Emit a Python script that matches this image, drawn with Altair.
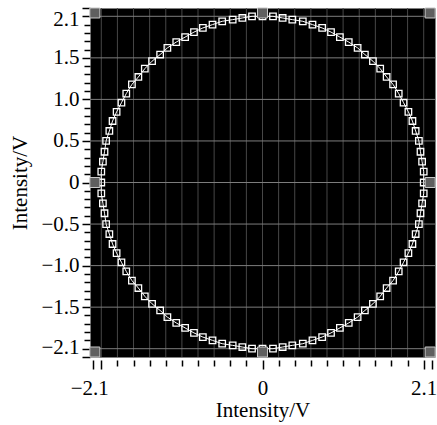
import altair as alt
import pandas as pd

X_VALS = [
    2.00, 2.00, 1.98, 1.96, 1.94, 1.90, 1.86, 1.81, 1.75, 1.69, 1.62, 1.54, 1.46, 1.37, 1.27, 1.18, 1.07, 0.96, 0.85, 0.74, 0.62, 0.50, 0.37, 0.25, 0.13, 0.00,
    -0.13, -0.25, -0.37, -0.50, -0.62, -0.74, -0.85, -0.96, -1.07, -1.18, -1.27, -1.37, -1.46, -1.54, -1.62, -1.69, -1.75, -1.81, -1.86, -1.90, -1.94, -1.96, -1.98, -2.00, -2.00,
    -2.00, -1.98, -1.96, -1.94, -1.90, -1.86, -1.81, -1.75, -1.69, -1.62, -1.54, -1.46, -1.37, -1.27, -1.18, -1.07, -0.96, -0.85, -0.74, -0.62, -0.50, -0.37, -0.25, -0.13, 0.00,
    0.13, 0.25, 0.37, 0.50, 0.62, 0.74, 0.85, 0.96, 1.07, 1.18, 1.27, 1.37, 1.46, 1.54, 1.62, 1.69, 1.75, 1.81, 1.86, 1.90, 1.94, 1.96, 1.98, 2.00,
]
Y_VALS = [
    0.00, 0.13, 0.25, 0.37, 0.50, 0.62, 0.74, 0.85, 0.96, 1.07, 1.18, 1.27, 1.37, 1.46, 1.54, 1.62, 1.69, 1.75, 1.81, 1.86, 1.90, 1.94, 1.96, 1.98, 2.00, 2.00,
    2.00, 1.98, 1.96, 1.94, 1.90, 1.86, 1.81, 1.75, 1.69, 1.62, 1.54, 1.46, 1.37, 1.27, 1.18, 1.07, 0.96, 0.85, 0.74, 0.62, 0.50, 0.37, 0.25, 0.13, 0.00,
    -0.13, -0.25, -0.37, -0.50, -0.62, -0.74, -0.85, -0.96, -1.07, -1.18, -1.27, -1.37, -1.46, -1.54, -1.62, -1.69, -1.75, -1.81, -1.86, -1.90, -1.94, -1.96, -1.98, -2.00, -2.00,
    -2.00, -1.98, -1.96, -1.94, -1.90, -1.86, -1.81, -1.75, -1.69, -1.62, -1.54, -1.46, -1.37, -1.27, -1.18, -1.07, -0.96, -0.85, -0.74, -0.62, -0.50, -0.37, -0.25, -0.13,
]

# Gray cursor markers
CURSOR_X = [-2.08, 0.0, 2.08, -2.08, 2.08, -2.08, 0.0, 2.08]
CURSOR_Y = [2.04, 2.04, 2.04, 0.0, 0.0, -2.04, -2.04, -2.04]

# Grid lines
VGRID = [-2.0, -1.8, -1.6, -1.4, -1.2, -1.0, -0.8, -0.6, -0.4, -0.2, 0.0,
         0.2, 0.4, 0.6, 0.8, 1.0, 1.2, 1.4, 1.6, 1.8, 2.0]
HGRID = [-2.0, -1.5, -1.0, -0.5, 0.0, 0.5, 1.0, 1.5, 2.0]

# Ticks
X_TICKS = [-2.1, -2.0, -1.8, -1.6, -1.4, -1.2, -1.0, -0.8, -0.6, -0.4, -0.2, 0.0,
           0.2, 0.4, 0.6, 0.8, 1.0, 1.2, 1.4, 1.6, 1.8, 2.0, 2.1]
Y_TICKS = [-2.1, -2.0, -1.9, -1.8, -1.7, -1.6, -1.5, -1.4, -1.3, -1.2, -1.1, -1.0,
           -0.9, -0.8, -0.7, -0.6, -0.5, -0.4, -0.3, -0.2, -0.1, 0.0,
           0.1, 0.2, 0.3, 0.4, 0.5, 0.6, 0.7, 0.8, 0.9, 1.0,
           1.1, 1.2, 1.3, 1.4, 1.5, 1.6, 1.7, 1.8, 1.9, 2.0, 2.1]

FONT = "Liberation Serif"
FS = 21

circle_df = pd.DataFrame({"x": X_VALS, "y": Y_VALS, "i": list(range(len(X_VALS)))})
line_df = pd.concat([circle_df, circle_df.iloc[[0]].assign(i=len(X_VALS))], ignore_index=True)
cursor_df = pd.DataFrame({"x": CURSOR_X, "y": CURSOR_Y})
vgrid_df = pd.DataFrame({"x": VGRID})
hgrid_df = pd.DataFrame({"y": HGRID})

xscale = alt.Scale(domain=[-2.14, 2.14], nice=False, zero=False)
yscale = alt.Scale(domain=[-2.1, 2.1], nice=False, zero=False)

x_axis = alt.Axis(
    values=X_TICKS,
    labelExpr="abs(datum.value) > 2.05 ? format(datum.value, '.1f') : (abs(datum.value) < 0.001 ? '0' : '')",
    title="Intensity/V",
    grid=False, domain=False,
    tickColor="black", tickWidth=1.5,
    tickSize={"condition": {"test": "abs(datum.value) < 0.001 || abs(datum.value) > 1.95", "value": 9}, "value": 6},
    offset=3,
    labelFont=FONT, labelFontSize=FS, labelColor="black",
    titleFont=FONT, titleFontSize=FS, titleFontWeight="normal", titleColor="black",
    labelFlush=False, labelOverlap=False, labelPadding=8, titlePadding=1,
    labelAlign={"condition": {"test": "datum.value > 2.05", "value": "right"}, "value": "center"},
    labelOffset={"condition": [
        {"test": "datum.value > 2.05", "value": 5},
        {"test": "datum.value < -2.05", "value": -4},
    ], "value": 0},
)
y_axis = alt.Axis(
    values=Y_TICKS,
    labelExpr="abs(datum.value) > 2.05 ? format(datum.value, '.1f') : (abs(datum.value) > 1.95 ? '' : (abs(datum.value) < 0.001 ? '0' : (abs(datum.value * 2 - round(datum.value * 2)) < 0.001 ? format(datum.value, '.1f') : '')))",
    title="Intensity/V",
    grid=False, domain=False,
    tickColor="black", tickWidth=1.5,
    tickSize={"condition": {"test": "abs(datum.value * 2 - round(datum.value * 2)) < 0.001 || abs(datum.value) > 2.05", "value": 8}, "value": 6},
    labelFont=FONT, labelFontSize=FS, labelColor="black",
    titleFont=FONT, titleFontSize=FS, titleFontWeight="normal", titleColor="black",
    labelFlush=True, labelOverlap=False, labelPadding=3, titlePadding=10,
)

vgrid = alt.Chart(vgrid_df).mark_rule(color="#474747", strokeWidth=1).encode(
    x=alt.X("x:Q", scale=xscale, axis=x_axis)
)
hgrid = alt.Chart(hgrid_df).mark_rule(color="#7d7d7d", strokeWidth=1).encode(
    y=alt.Y("y:Q", scale=yscale, axis=y_axis)
)
line = alt.Chart(line_df).mark_line(color="white", strokeWidth=1).encode(
    x=alt.X("x:Q", scale=xscale, axis=x_axis),
    y=alt.Y("y:Q", scale=yscale, axis=y_axis),
    order="i:Q",
)
pts = alt.Chart(circle_df).mark_point(shape="square", filled=False, size=42,
                                      color="white", strokeWidth=1.3, opacity=1).encode(
    x=alt.X("x:Q", scale=xscale, axis=x_axis),
    y=alt.Y("y:Q", scale=yscale, axis=y_axis),
)
cursors = alt.Chart(cursor_df).mark_square(size=100, filled=True, color="#5f5f5f",
                                           stroke="#c8c8c8", strokeWidth=1, opacity=1).encode(
    x=alt.X("x:Q", scale=xscale, axis=x_axis),
    y=alt.Y("y:Q", scale=yscale, axis=y_axis),
)

chart = alt.layer(vgrid, hgrid, line, pts, cursors).properties(
    width=345, height=349,
    autosize=alt.AutoSizeParams(type="none"),
    padding={"left": 90, "top": 8, "right": 2, "bottom": 68},
    background="white",
).configure_view(fill="black", stroke="transparent")

chart.save("out.html", embed_options={"renderer": "svg", "actions": False})
